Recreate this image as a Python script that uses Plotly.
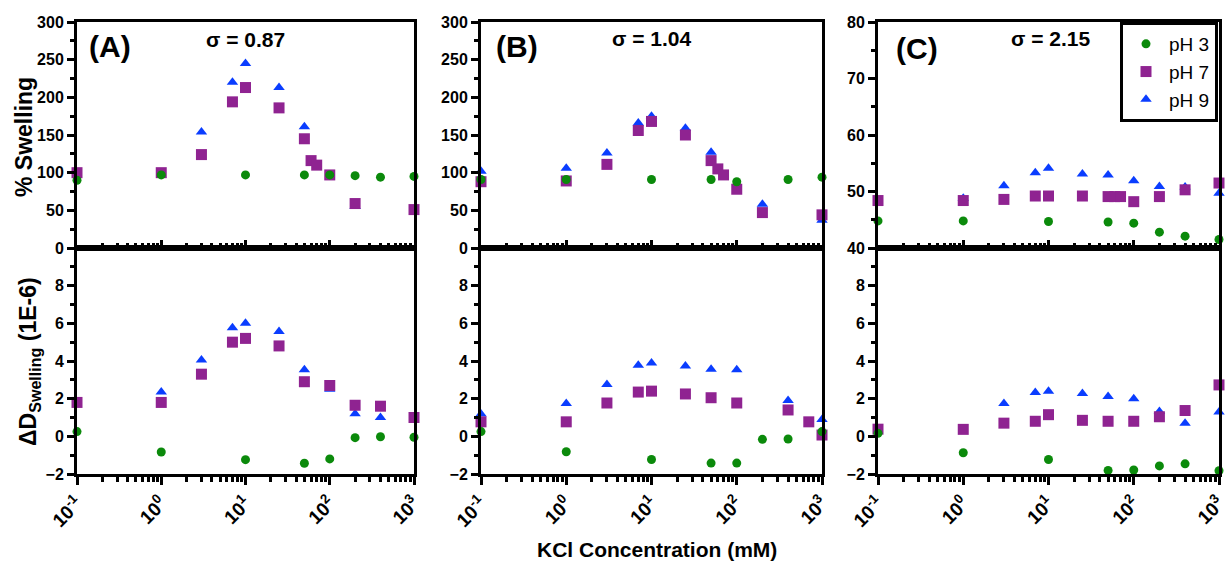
import plotly.graph_objects as go

# ---------------- data ----------------
KCL = [0.1, 1, 3, 7, 10, 25, 50, 60, 70, 100, 200, 400, 700, 1000]
N = None

# Panel A (sigma = 0.87)
A_swell_pH3 = [90, 97, N, N, 97, N, 97, N, N, 97, 96, 94, N, 95]
A_swell_pH7 = [100, 100, 124, 194, 213, 186, 145, 116, 110, 97, 59, N, N, 51]
A_swell_pH9 = [N, N, 154, 220, 245, 213, 161, N, N, N, 55, N, N, N]
A_dD_pH3 = [0.25, -0.83, N, N, -1.24, N, -1.43, N, N, -1.2, -0.07, -0.02, N, -0.05]
A_dD_pH7 = [1.8, 1.8, 3.3, 5.0, 5.2, 4.8, 2.9, N, N, 2.7, 1.65, 1.6, N, 1.0]
A_dD_pH9 = [N, 2.35, 4.05, 5.77, 6.0, 5.57, 3.54, N, N, 2.5, 1.2, 1.0, N, N]

# Panel B (sigma = 1.04)
B_swell_pH3 = [91, 91, N, N, 91, N, 91, N, N, 88, N, 91, N, 94]
B_swell_pH7 = [88, 89, 111, 156, 168, 150, 116, 105, 97, 78, 47, N, N, 44]
B_swell_pH9 = [102, 106, 126, 166, 175, 159, 127, N, N, N, 58, N, N, 37]
B_dD_pH3 = [0.25, -0.82, N, N, -1.23, N, -1.42, N, N, -1.42, -0.16, -0.14, N, 0.25]
B_dD_pH7 = [0.77, 0.77, 1.77, 2.35, 2.4, 2.25, 2.05, N, N, 1.77, N, 1.4, 0.77, 0.07]
B_dD_pH9 = [1.18, 1.75, 2.75, 3.77, 3.9, 3.74, 3.56, N, N, 3.54, N, 1.9, N, 0.9]

# Panel C (sigma = 2.15)
C_swell_pH3 = [44.8, 44.8, N, N, 44.7, N, 44.6, N, N, 44.4, 42.8, 42.1, N, 41.5]
C_swell_pH7 = [48.4, 48.4, 48.6, 49.2, 49.2, 49.2, 49.1, 49.1, 49.1, 48.2, 49.1, 50.3, N, 51.5]
C_swell_pH9 = [N, 48.8, 51.0, 53.3, 54.1, 53.1, 52.9, N, N, 51.9, 50.9, 50.8, N, 49.7]
C_dD_pH3 = [0.16, -0.87, N, N, -1.23, N, -1.81, N, N, -1.79, -1.57, -1.46, N, -1.83]
C_dD_pH7 = [0.38, 0.37, 0.7, 0.8, 1.15, 0.85, 0.8, N, N, 0.8, 1.04, 1.37, N, 2.73]
C_dD_pH9 = [N, N, 1.74, 2.33, 2.4, 2.28, 2.12, N, N, 2.0, 1.32, 0.7, N, 1.29]

PANEL_LABELS = ["(A)", "(B)", "(C)"]
SIGMA_LABELS = ["σ = 0.87", "σ = 1.04", "σ = 2.15"]
SERIES_NAMES = ["pH 3", "pH 7", "pH 9"]
X_TICKVALS = [0.1, 1, 10, 100, 1000]
X_TICKTEXT = ["10<sup>-1</sup>", "10<sup>0</sup>", "10<sup>1</sup>", "10<sup>2</sup>", "10<sup>3</sup>"]

# ---------------- styles ----------------
COLORS = {"pH 3": "#0b8a0b", "pH 7": "#8f2391", "pH 9": "#0a3dff"}
SYMBOLS = {"pH 3": "circle", "pH 7": "square", "pH 9": "triangle-up"}
SIZES = {"pH 3": 9, "pH 7": 11, "pH 9": 10}
FONT = "Arial, Liberation Sans, sans-serif"
W, H = 1225, 561

panels = [
    (A_swell_pH3, A_swell_pH7, A_swell_pH9, A_dD_pH3, A_dD_pH7, A_dD_pH9),
    (B_swell_pH3, B_swell_pH7, B_swell_pH9, B_dD_pH3, B_dD_pH7, B_dD_pH9),
    (C_swell_pH3, C_swell_pH7, C_swell_pH9, C_dD_pH3, C_dD_pH7, C_dD_pH9),
]
x_px = [(77, 414), (481, 822), (878, 1219)]
top_px = (22, 248)
bot_px = (248, 474)
top_ranges = [(0, 300, 50), (0, 300, 50), (40, 80, 10)]

minor_x = [m * 10 ** e for e in range(-1, 3) for m in range(2, 10)]

fig = go.Figure()
layout = {}

def ydom(p):
    return [1 - p[1] / H, 1 - p[0] / H]

for i, data in enumerate(panels):
    xt = 2 * i + 1
    xb = 2 * i + 2
    xdom = [x_px[i][0] / W, x_px[i][1] / W]
    top_series = dict(zip(SERIES_NAMES, data[:3]))
    bot_series = dict(zip(SERIES_NAMES, data[3:]))
    for name in ["pH 9", "pH 7", "pH 3"]:
        for sub, series in ((xt, top_series), (xb, bot_series)):
            fig.add_trace(go.Scatter(
                x=KCL, y=series[name], mode="markers", name=name,
                marker=dict(color=COLORS[name], symbol=SYMBOLS[name], size=SIZES[name], line=dict(width=0)),
                xaxis="x" if sub == 1 else f"x{sub}", yaxis="y" if sub == 1 else f"y{sub}",
                showlegend=(i == 2 and sub == xt), cliponaxis=False, legendgroup=name,
            ))
    lo, hi, step = top_ranges[i]
    common_x = dict(type="log", range=[-1, 3], domain=xdom, showline=True, linewidth=3,
                    linecolor="black", mirror=True, showgrid=False, zeroline=False,
                    automargin=False,
                    tickmode="array", tickvals=X_TICKVALS, tickwidth=2.5, tickcolor="black")
    kt = "xaxis" if xt == 1 else f"xaxis{xt}"
    kb = f"xaxis{xb}"
    layout[kt] = dict(common_x, anchor="y" if xt == 1 else f"y{xt}", ticks="inside", ticklen=8,
                      showticklabels=False,
                      minor=dict(tickmode="array", tickvals=minor_x, ticks="inside", ticklen=5,
                                 tickwidth=2.5, tickcolor="black", showgrid=False))
    layout[kb] = dict(common_x, anchor=f"y{xb}", ticks="outside", ticklen=8,
                      ticktext=X_TICKTEXT, tickangle=-45, ticklabeloverflow="allow",
                      tickfont=dict(family=FONT, size=19, color="black", weight="bold"),
                      minor=dict(tickmode="array", tickvals=minor_x, ticks="outside", ticklen=5,
                                 tickwidth=2.5, tickcolor="black", showgrid=False))
    common_y = dict(showline=True, linewidth=3, linecolor="black", mirror=True, showgrid=False,
                    zeroline=False, ticks="outside", ticklen=7, tickwidth=2.5, tickcolor="black",
                    automargin=False,
                    tickfont=dict(family=FONT, size=16, color="black", weight="bold"))
    kyt = "yaxis" if xt == 1 else f"yaxis{xt}"
    layout[kyt] = dict(common_y, anchor="x" if xt == 1 else f"x{xt}", domain=ydom(top_px),
                       range=[lo, hi], tickmode="array",
                       tickvals=list(range(lo, hi + 1, step)),
                       minor=dict(tickmode="array",
                                  tickvals=[v + step / 2 for v in range(lo, hi, step)],
                                  ticks="outside", ticklen=4, tickwidth=2.5, tickcolor="black"))
    layout[f"yaxis{xb}"] = dict(common_y, anchor=f"x{xb}", domain=ydom(bot_px), range=[-2, 10],
                                tickmode="array", tickvals=[-2, 0, 2, 4, 6, 8],
                                minor=dict(tickmode="array", tickvals=[-1, 1, 3, 5, 7, 9],
                                           ticks="outside", ticklen=4, tickwidth=2.5,
                                           tickcolor="black"))

def ann(x, y, text, size, angle=0):
    return dict(x=x / W, y=1 - y / H, xref="paper", yref="paper", xanchor="center",
                yanchor="middle", text=text, showarrow=False, textangle=angle,
                font=dict(family=FONT, size=size, color="black"))

annotations = []
label_pos = [(110, 47), (517, 46), (917, 48)]
sigma_pos = [(245, 39), (651, 38), (1050, 38)]
for i in range(3):
    annotations.append(ann(*label_pos[i], f"<b>{PANEL_LABELS[i]}</b>", 30))
    annotations.append(ann(*sigma_pos[i], f"<b>{SIGMA_LABELS[i]}</b>", 21))
annotations.append(ann(24, 137, "<b>% Swelling</b>", 23, -90))
annotations.append(ann(29, 362, "<b>ΔD<sub>Swelling</sub> (1E-6)</b>", 23, -90))
annotations.append(ann(657, 549, "<b>KCl Concentration (mM)</b>", 21))

fig.update_layout(
    width=W, height=H, margin=dict(l=0, r=0, t=0, b=0, autoexpand=False),
    paper_bgcolor="white", plot_bgcolor="white",
    font=dict(family=FONT, color="black"),
    annotations=annotations,
    legend=dict(x=1218 / W, xanchor="right", y=1 - 22 / H, yanchor="top",
                bgcolor="white", bordercolor="black", borderwidth=3,
                font=dict(family=FONT, size=19, color="black"), traceorder="reversed",
                itemwidth=36),
    **layout,
)

fig.write_html("out.html")
